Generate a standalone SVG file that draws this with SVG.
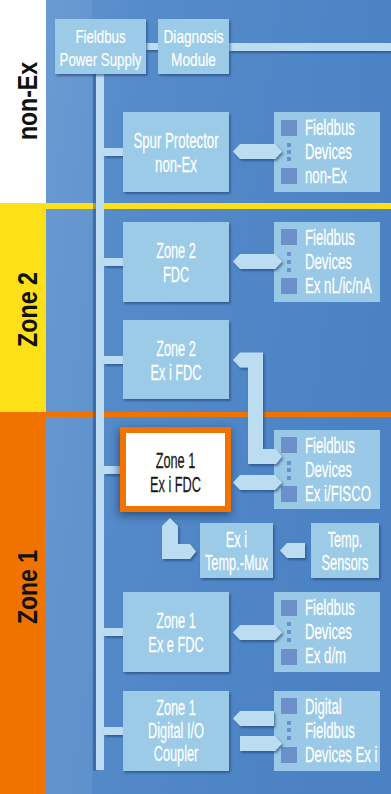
<svg xmlns="http://www.w3.org/2000/svg" width="391" height="794" viewBox="0 0 391 794">
<defs>
<linearGradient id="bg" x1="0" y1="0" x2="1" y2="0.3">
<stop offset="0" stop-color="#6598d2"/>
<stop offset="0.35" stop-color="#568bca"/>
<stop offset="1" stop-color="#4a82c4"/>
</linearGradient>
<filter id="sh" x="-20%" y="-20%" width="140%" height="150%">
<feDropShadow dx="1.5" dy="2" stdDeviation="1" flood-color="#1c3f70" flood-opacity="0.6"/>
</filter>
<filter id="bigsh" x="-30%" y="-30%" width="160%" height="170%">
<feDropShadow dx="-1" dy="3" stdDeviation="5" flood-color="#1c3560" flood-opacity="0.75"/>
</filter>
<style>
.box{fill:#9ccbe7;filter:url(#sh)}
.pan{fill:#99c9e6}
.sq{fill:#6e90c9}
.con{fill:#bcdcf1;filter:url(#sh)}
.t{font-family:"Liberation Sans",Arial,sans-serif;font-size:22px;fill:#ffffff;stroke:#ffffff;stroke-width:0.25;text-anchor:middle}
.ts{font-family:"Liberation Sans",Arial,sans-serif;font-size:19px;fill:#ffffff;stroke:#ffffff;stroke-width:0.2;text-anchor:middle}
.tp{font-family:"Liberation Sans",Arial,sans-serif;font-size:22px;fill:#ffffff;stroke:#ffffff;stroke-width:0.25}
.dk{fill:#1a1a1a;stroke:#1a1a1a}
.lab{font-family:"Liberation Sans",Arial,sans-serif;font-weight:bold;font-size:28px;fill:#111111;text-anchor:middle}
</style>
</defs>
<!-- background -->
<rect x="0" y="0" width="391" height="794" fill="url(#bg)"/>
<rect x="46" y="0" width="46" height="794" fill="#ffffff" opacity="0.07"/>
<rect x="0" y="0" width="46" height="203" fill="#ffffff"/>
<rect x="0" y="203" width="46" height="209" fill="#fde018"/>
<rect x="0" y="412" width="46" height="382" fill="#f07300"/>
<rect x="46" y="203" width="345" height="6" fill="#fde018"/>
<rect x="46" y="412" width="345" height="5" fill="#f07300"/>
<text class="lab" transform="translate(37,101) rotate(-90)" textLength="78" lengthAdjust="spacingAndGlyphs">non-Ex</text>
<text class="lab" transform="translate(37,309.5) rotate(-90)" textLength="75" lengthAdjust="spacingAndGlyphs">Zone 2</text>
<text class="lab" transform="translate(37,587) rotate(-90)" textLength="74" lengthAdjust="spacingAndGlyphs">Zone 1</text>

<!-- connectors -->
<g id="connectors">
<rect x="93" y="74" width="4" height="697" fill="#23497c" opacity="0.45"/>
<rect x="96" y="70" width="8" height="700" fill="#bcdcf1"/>
<rect class="con" x="104" y="148" width="19" height="8"/>
<rect class="con" x="104" y="258" width="19" height="8"/>
<rect class="con" x="104" y="356" width="19" height="8"/>
<rect class="con" x="104" y="466" width="19" height="8"/>
<rect class="con" x="104" y="628" width="19" height="8"/>
<rect class="con" x="104" y="727" width="19" height="8"/>
<rect class="con" x="146" y="43" width="12" height="7"/>
<rect class="con" x="229" y="43" width="162" height="8"/>
</g>

<!-- nodes -->
<g id="power-supply">
<rect class="box" x="55" y="19" width="91" height="55"/>
<text class="ts" transform="translate(100.5,43) scale(0.7,1)">Fieldbus</text>
<text class="ts" transform="translate(100.5,66) scale(0.7,1)">Power Supply</text>
</g>
<g id="diagnosis">
<rect class="box" x="158" y="19" width="71" height="55"/>
<text class="ts" transform="translate(193.5,43) scale(0.72,1)">Diagnosis</text>
<text class="ts" transform="translate(193.5,66) scale(0.72,1)">Module</text>
</g>
<g id="spur-protector">
<rect class="box" x="123" y="112" width="106" height="80"/>
<text class="t" transform="translate(176,148) scale(0.6,1)">Spur Protector</text>
<text class="t" transform="translate(176,172) scale(0.6,1)">non-Ex</text>
</g>
<g id="devices-nonex">
<rect class="pan" x="274" y="112" width="106" height="80"/>
<rect class="sq" x="281" y="120" width="16" height="16"/>
<rect class="sq" x="281" y="168" width="16" height="16"/>
<rect class="sq" x="287" y="143" width="4" height="4"/>
<rect class="sq" x="287" y="150" width="4" height="4"/>
<rect class="sq" x="287" y="157" width="4" height="4"/>
<text class="tp" transform="translate(305,135) scale(0.6,1)">Fieldbus</text>
<text class="tp" transform="translate(305,159) scale(0.6,1)">Devices</text>
<text class="tp" transform="translate(305,183) scale(0.6,1)">non-Ex</text>
</g>
<g id="zone2-fdc">
<rect class="box" x="123" y="222" width="106" height="80"/>
<text class="t" transform="translate(176,258) scale(0.58,1)">Zone 2</text>
<text class="t" transform="translate(176,282) scale(0.58,1)">FDC</text>
</g>
<g id="devices-zone2">
<rect class="pan" x="274" y="222" width="106" height="80"/>
<rect class="sq" x="281" y="229" width="16" height="16"/>
<rect class="sq" x="281" y="278" width="16" height="16"/>
<rect class="sq" x="287" y="252" width="4" height="4"/>
<rect class="sq" x="287" y="260" width="4" height="4"/>
<rect class="sq" x="287" y="268" width="4" height="4"/>
<text class="tp" transform="translate(305,245) scale(0.6,1)">Fieldbus</text>
<text class="tp" transform="translate(305,269) scale(0.6,1)">Devices</text>
<text class="tp" transform="translate(305,293) scale(0.6,1)">Ex nL/ic/nA</text>
</g>
<g id="zone2-exi-fdc">
<rect class="box" x="123" y="320" width="106" height="79"/>
<text class="t" transform="translate(176,356) scale(0.58,1)">Zone 2</text>
<text class="t" transform="translate(176,380) scale(0.58,1)">Ex i FDC</text>
</g>
<g id="zone1-exi-fdc">
<rect x="120" y="427" width="111" height="85" fill="#f07300" filter="url(#bigsh)"/>
<rect x="126" y="433" width="99" height="73" fill="#ffffff"/>
<text class="t dk" transform="translate(175.5,468) scale(0.58,1)">Zone 1</text>
<text class="t dk" transform="translate(175.5,492) scale(0.58,1)">Ex i FDC</text>
</g>
<g id="devices-fisco">
<rect class="pan" x="274" y="430" width="106" height="79"/>
<rect class="sq" x="281" y="437" width="16" height="16"/>
<rect class="sq" x="281" y="486" width="16" height="16"/>
<rect class="sq" x="287" y="461" width="4" height="4"/>
<rect class="sq" x="287" y="468" width="4" height="4"/>
<rect class="sq" x="287" y="476" width="4" height="4"/>
<text class="tp" transform="translate(305,453) scale(0.6,1)">Fieldbus</text>
<text class="tp" transform="translate(305,477) scale(0.6,1)">Devices</text>
<text class="tp" transform="translate(305,501) scale(0.6,1)">Ex i/FISCO</text>
</g>
<g id="temp-mux">
<rect class="box" x="200" y="523" width="73" height="55"/>
<text class="t" transform="translate(236.5,547) scale(0.58,1)">Ex i</text>
<text class="t" transform="translate(236.5,570) scale(0.58,1)">Temp.-Mux</text>
</g>
<g id="temp-sensors">
<rect class="box" x="311" y="523" width="68" height="55"/>
<text class="t" transform="translate(345,547) scale(0.58,1)">Temp.</text>
<text class="t" transform="translate(345,570) scale(0.58,1)">Sensors</text>
</g>
<g id="zone1-exe-fdc">
<rect class="box" x="123" y="592" width="106" height="80"/>
<text class="t" transform="translate(176,628) scale(0.58,1)">Zone 1</text>
<text class="t" transform="translate(176,652) scale(0.58,1)">Ex e FDC</text>
</g>
<g id="devices-exdm">
<rect class="pan" x="274" y="592" width="106" height="80"/>
<rect class="sq" x="281" y="600" width="16" height="16"/>
<rect class="sq" x="281" y="649" width="16" height="16"/>
<rect class="sq" x="287" y="622" width="4" height="4"/>
<rect class="sq" x="287" y="630" width="4" height="4"/>
<rect class="sq" x="287" y="638" width="4" height="4"/>
<text class="tp" transform="translate(305,615) scale(0.6,1)">Fieldbus</text>
<text class="tp" transform="translate(305,639) scale(0.6,1)">Devices</text>
<text class="tp" transform="translate(305,663) scale(0.6,1)">Ex d/m</text>
</g>
<g id="zone1-digital-io">
<rect class="box" x="123" y="691" width="106" height="80"/>
<text class="t" transform="translate(176,715) scale(0.58,1)">Zone 1</text>
<text class="t" transform="translate(176,738) scale(0.58,1)">Digital I/O</text>
<text class="t" transform="translate(176,761) scale(0.58,1)">Coupler</text>
</g>
<g id="devices-digital">
<rect class="pan" x="274" y="691" width="106" height="80"/>
<rect class="sq" x="281" y="698" width="16" height="16"/>
<rect class="sq" x="281" y="747" width="16" height="16"/>
<rect class="sq" x="287" y="721" width="4" height="4"/>
<rect class="sq" x="287" y="728" width="4" height="4"/>
<rect class="sq" x="287" y="736" width="4" height="4"/>
<text class="tp" transform="translate(305,714) scale(0.6,1)">Digital</text>
<text class="tp" transform="translate(305,738) scale(0.6,1)">Fieldbus</text>
<text class="tp" transform="translate(305,762) scale(0.6,1)">Devices Ex i</text>
</g>

<!-- arrows -->
<g id="arrows">
<polygon class="con" points="233,151.5 240,144 275,144 282,151.5 275,159 240,159"/>
<polygon class="con" points="233,261.5 240,254 275,254 282,261.5 275,269 240,269"/>
<polygon class="con" points="233,360 240,352.5 263,352.5 263,449 276,449 282,456.5 276,464 248,464 248,367.5 240,367.5"/>
<polygon class="con" points="233,482.5 240,475 275,475 282,482.5 275,490 240,490"/>
<polygon class="con" points="170,518 178,526 178,544 190,544 196,551.5 190,559 162,559 162,526"/>
<polygon class="con" points="280,550.5 287,543 305,543 305,558 287,558"/>
<polygon class="con" points="233,632.5 240,625 275,625 282,632.5 275,640 240,640"/>
<polygon class="con" points="233,718.5 240,711 274,711 274,726 240,726"/>
<polygon class="con" points="240,736 275,736 282,743.5 275,751 240,751"/>
</g>
</svg>
